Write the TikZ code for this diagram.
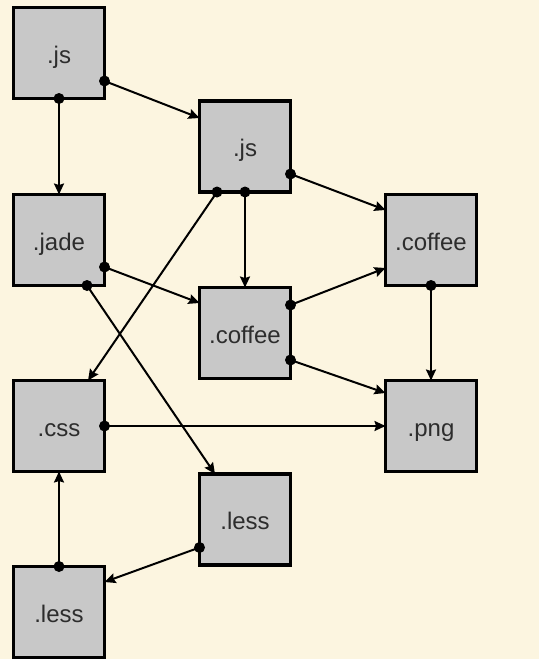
\documentclass[tikz,border=0pt]{standalone}
\usepackage{fontspec}
\setmainfont{Liberation Sans}
\usetikzlibrary{arrows.meta}
\definecolor{bg}{RGB}{252,245,224}
\definecolor{boxfill}{RGB}{200,200,200}
\definecolor{txt}{RGB}{45,45,45}
\tikzset{
  filebox/.style={draw=black, fill=boxfill, line width=3.8pt, minimum width=91pt, minimum height=91pt, inner sep=0pt, outer sep=0pt, text=txt, text height=20pt, text depth=0pt, font=\fontsize{24}{28}\selectfont},
  conn/.style={line width=2pt, -{Stealth[length=11pt, width=10pt, inset=1.5pt]}},
}
\newcommand{\srcdot}[1]{\fill[black] (#1) circle (5.5pt);}
\begin{document}
\begin{tikzpicture}[x=1pt, y=-1pt]
\useasboundingbox (0,0) rectangle (539,659);
\fill[bg] (0,0) rectangle (539,659);

\node[filebox] (js1) at (59,53) {.js};
\node[filebox] (js2) at (245,146.5) {.js};
\node[filebox] (jade) at (59,240) {.jade};
\node[filebox] (cofR) at (431,240) {.coffee};
\node[filebox] (cof2) at (245,333) {.coffee};
\node[filebox] (css) at (59,426) {.css};
\node[filebox] (png) at (431,426) {.png};
\node[filebox] (less1) at (245,519.5) {.less};
\node[filebox] (less2) at (59,612) {.less};

% anchor points
\coordinate (s1) at ([yshift=-28pt]js1.east);
\coordinate (t1) at ([yshift=28.5pt]js2.west);
\coordinate (s3) at ([xshift=-28pt]js2.south);
\coordinate (t3) at ([xshift=29pt]css.north);
\coordinate (s5) at ([yshift=-27.5pt]js2.east);
\coordinate (t5) at ([yshift=30pt]cofR.west);
\coordinate (s6) at ([yshift=28pt]cof2.east);
\coordinate (t6) at ([yshift=-28pt]cofR.west);
\coordinate (s7) at ([yshift=-27pt]cof2.east);
\coordinate (t7) at ([yshift=33pt]png.west);
\coordinate (s9) at ([yshift=-27pt]jade.east);
\coordinate (t9) at ([yshift=30pt]cof2.west);
\coordinate (s10) at ([xshift=28pt]jade.south);
\coordinate (t10) at ([xshift=-30pt]less1.north);
\coordinate (s12) at ([yshift=-28pt]less1.west);
\coordinate (t12) at ([yshift=30pt]less2.east);

\draw[conn] (s1) -- (t1);
\draw[conn] (js1.south) -- (jade.north);
\draw[conn] (s3) -- (t3);
\draw[conn] (js2.south) -- (cof2.north);
\draw[conn] (s5) -- (t5);
\draw[conn] (s6) -- (t6);
\draw[conn] (s7) -- (t7);
\draw[conn] (cofR.south) -- (png.north);
\draw[conn] (s9) -- (t9);
\draw[conn] (s10) -- (t10);
\draw[conn] (css.east) -- (png.west);
\draw[conn] (s12) -- (t12);
\draw[conn] (less2.north) -- (css.south);

\srcdot{s1}
\srcdot{js1.south}
\srcdot{s3}
\srcdot{js2.south}
\srcdot{s5}
\srcdot{s6}
\srcdot{s7}
\srcdot{cofR.south}
\srcdot{s9}
\srcdot{s10}
\srcdot{css.east}
\srcdot{s12}
\srcdot{less2.north}
\end{tikzpicture}
\end{document}
